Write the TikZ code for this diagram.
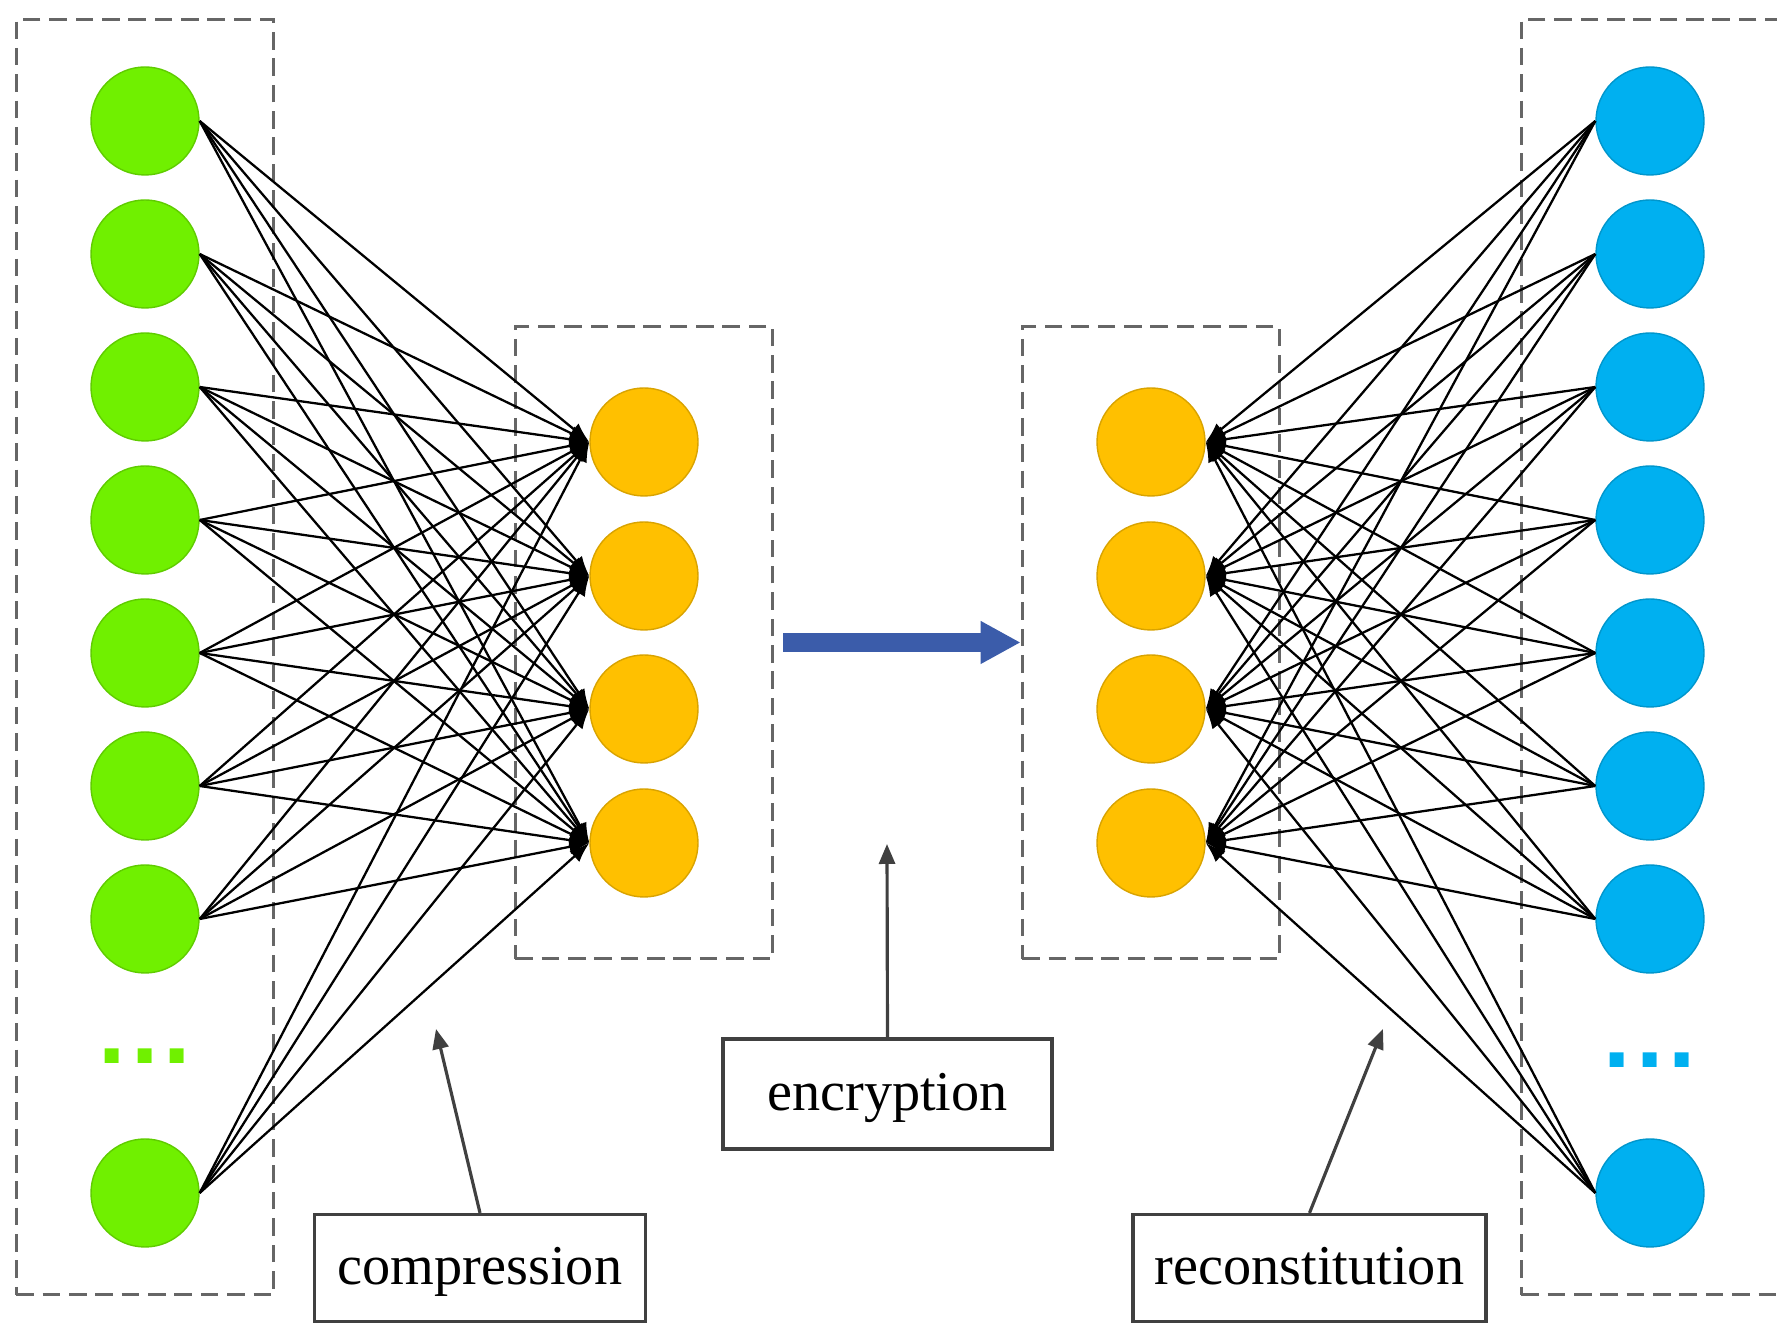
\documentclass[tikz,border=0pt]{standalone}
\usepackage{fontspec}
\setmainfont{Liberation Serif}
\newfontfamily\dotfont{Liberation Sans}
\usetikzlibrary{arrows.meta,fit}
\definecolor{ingreen}{RGB}{112,240,0}
\definecolor{hidorange}{RGB}{255,192,0}
\definecolor{outblue}{RGB}{0,176,240}
\definecolor{arrowblue}{RGB}{59,92,170}

\begin{document}
\begin{tikzpicture}[
  neuron/.style={circle,minimum size=1.08cm,inner sep=0pt},
  layerbox/.style={draw=black!60,dash pattern=on 5pt off 2.5pt,line width=0.9pt,inner xsep=0.74cm},
  tagbox/.style={draw=black!75,line width=0.9pt,font=\fontsize{16}{19}\selectfont,inner sep=0pt,text height=0.33cm,text depth=0pt},
  link/.style={line width=0.65pt},
  pointer/.style={draw=black!75,line width=0.9pt,-{Triangle[length=2mm,width=1.6mm]}},
  dotrow/.style={inner sep=0pt,font=\dotfont\fontsize{28}{28}\selectfont\bfseries}
]
\useasboundingbox (0,0) rectangle (17.77,13.25);
% input layer
\foreach \i/\y in {1/12.04,2/10.71,3/9.38,4/8.05,5/6.72,6/5.39,7/4.06,8/1.32}
  \node[neuron,fill=ingreen,draw=ingreen!85!black] (g\i) at (1.45,\y) {};
\node[dotrow,text=ingreen] (gdots) at (1.45,2.69) {.\kern1.5pt.\kern1.5pt.};
% hidden layers
\foreach \j/\y in {1/8.83,2/7.49,3/6.16,4/4.82} {
  \node[neuron,fill=hidorange,draw=hidorange!85!black] (l\j) at (6.44,\y) {};
  \node[neuron,fill=hidorange,draw=hidorange!85!black] (r\j) at (11.51,\y) {};
}
% output layer
\foreach \i/\y in {1/12.04,2/10.71,3/9.38,4/8.05,5/6.72,6/5.39,7/4.06,8/1.32}
  \node[neuron,fill=outblue,draw=outblue!85!black] (b\i) at (16.50,\y) {};
\node[dotrow,text=outblue] (bdots) at (16.50,2.65) {.\kern1.5pt.\kern1.5pt.};
% dashed frames
\node[layerbox,inner ysep=0.47cm,fit=(g1)(g8)] (inbox) {};
\node[layerbox,inner ysep=0.61cm,fit=(l1)(l4)] (lbox) {};
\node[layerbox,inner ysep=0.61cm,fit=(r1)(r4)] (rbox) {};
\node[layerbox,inner ysep=0.47cm,fit=(b1)(b8)] (outbox) {};
% connections
\foreach \i in {1,...,8}
  \foreach \j in {1,...,4} {
    \draw[link,-{Latex[length=2mm,width=1.5mm]}] (g\i.east) -- (l\j.west);
    \draw[link,{Latex[length=2mm,width=1.5mm]}-] (r\j.east) -- (b\i.west);
  }
\draw[arrowblue,line width=5.5pt,-{Triangle[length=4mm,width=4mm]}] ([xshift=0.09cm]lbox.east) -- (rbox.west);
% labels
\node[tagbox,minimum width=3.29cm,minimum height=1.1cm] (enc) at (8.875,2.31) {encryption};
\node[tagbox,minimum width=3.31cm,minimum height=1.07cm] (comp) at (4.80,0.57) {compression};
\node[tagbox,minimum width=3.53cm,minimum height=1.07cm] (recon) at (13.095,0.57) {reconstitution};
\coordinate (encend) at (8.87,4.81);
\coordinate (compend) at (4.36,2.96);
\coordinate (reconend) at (13.83,2.96);
\draw[pointer] (enc.north) -- (encend);
\draw[pointer] (comp.north) -- (compend);
\draw[pointer] (recon.north) -- (reconend);
\end{tikzpicture}
\end{document}
